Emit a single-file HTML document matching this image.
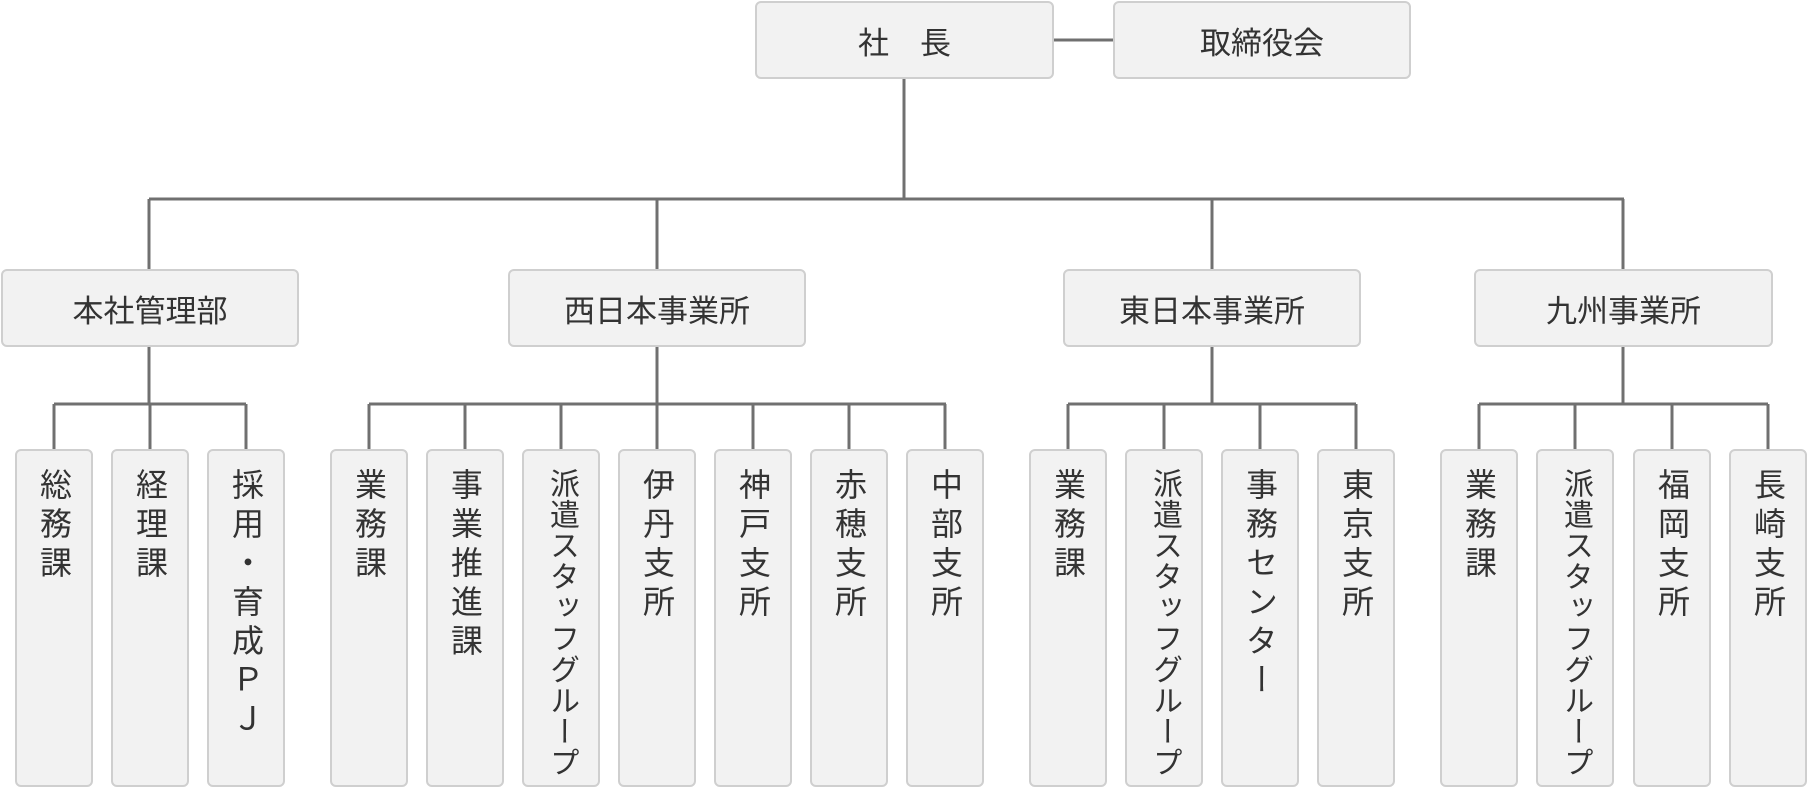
<!DOCTYPE html>
<html><head><meta charset="utf-8"><style>
body{margin:0;width:1808px;height:788px;background:#fff;position:relative;overflow:hidden;font-family:"Liberation Sans","Noto Sans CJK JP",sans-serif;color:#333}
.b{position:absolute;box-sizing:border-box;background:#f2f2f2;border:2px solid #cfcfcf;border-radius:6px;display:flex;align-items:center;justify-content:center;font-size:31px}
.l{position:absolute;box-sizing:border-box;background:#f2f2f2;border:2px solid #cfcfcf;border-radius:6px;top:449px;height:338px;width:78px;display:flex;justify-content:center;padding-top:17px;overflow:visible}
.l span{writing-mode:vertical-rl;text-orientation:upright;font-size:32px;letter-spacing:7px;line-height:1;white-space:nowrap;height:auto}
.l span.k{font-size:30px;letter-spacing:1px}
svg{position:absolute;left:0;top:0}
</style></head><body>
<svg width="1808" height="788"><g stroke="#707070" stroke-width="3" fill="none">
<line x1="1053" y1="40" x2="1113" y2="40"/>
<line x1="904" y1="78" x2="904" y2="199"/>
<line x1="149" y1="199" x2="1624" y2="199"/>
<line x1="149" y1="199" x2="149" y2="269"/><line x1="657" y1="199" x2="657" y2="269"/><line x1="1212" y1="199" x2="1212" y2="269"/><line x1="1623" y1="199" x2="1623" y2="269"/>
<line x1="149" y1="346" x2="149" y2="404"/><line x1="657" y1="346" x2="657" y2="404"/><line x1="1212" y1="346" x2="1212" y2="404"/><line x1="1623" y1="346" x2="1623" y2="404"/>
<line x1="54" y1="404" x2="246" y2="404"/><line x1="369" y1="404" x2="946" y2="404"/><line x1="1068" y1="404" x2="1356" y2="404"/><line x1="1479" y1="404" x2="1768" y2="404"/>
<line x1="54" y1="404" x2="54" y2="449"/><line x1="150" y1="404" x2="150" y2="449"/><line x1="246" y1="404" x2="246" y2="449"/>
<line x1="369" y1="404" x2="369" y2="449"/><line x1="465" y1="404" x2="465" y2="449"/><line x1="561" y1="404" x2="561" y2="449"/><line x1="657" y1="404" x2="657" y2="449"/><line x1="753" y1="404" x2="753" y2="449"/><line x1="849" y1="404" x2="849" y2="449"/><line x1="945" y1="404" x2="945" y2="449"/>
<line x1="1068" y1="404" x2="1068" y2="449"/><line x1="1164" y1="404" x2="1164" y2="449"/><line x1="1260" y1="404" x2="1260" y2="449"/><line x1="1356" y1="404" x2="1356" y2="449"/>
<line x1="1479" y1="404" x2="1479" y2="449"/><line x1="1575" y1="404" x2="1575" y2="449"/><line x1="1672" y1="404" x2="1672" y2="449"/><line x1="1768" y1="404" x2="1768" y2="449"/>
</g></svg>
<div class="b" style="left:755px;top:1px;width:299px;height:78px">社　長</div>
<div class="b" style="left:1113px;top:1px;width:298px;height:78px">取締役会</div>
<div class="b" style="left:1px;top:269px;width:298px;height:78px">本社管理部</div>
<div class="b" style="left:508px;top:269px;width:298px;height:78px">西日本事業所</div>
<div class="b" style="left:1063px;top:269px;width:298px;height:78px">東日本事業所</div>
<div class="b" style="left:1474px;top:269px;width:299px;height:78px">九州事業所</div>
<div class="l" style="left:15px"><span>総務課</span></div>
<div class="l" style="left:111px"><span>経理課</span></div>
<div class="l" style="left:207px"><span>採用・育成ＰＪ</span></div>
<div class="l" style="left:330px"><span>業務課</span></div>
<div class="l" style="left:426px"><span>事業推進課</span></div>
<div class="l" style="left:522px"><span class="k">派遣スタッフグループ</span></div>
<div class="l" style="left:618px"><span>伊丹支所</span></div>
<div class="l" style="left:714px"><span>神戸支所</span></div>
<div class="l" style="left:810px"><span>赤穂支所</span></div>
<div class="l" style="left:906px"><span>中部支所</span></div>
<div class="l" style="left:1029px"><span>業務課</span></div>
<div class="l" style="left:1125px"><span class="k">派遣スタッフグループ</span></div>
<div class="l" style="left:1221px"><span>事務センター</span></div>
<div class="l" style="left:1317px"><span>東京支所</span></div>
<div class="l" style="left:1440px"><span>業務課</span></div>
<div class="l" style="left:1536px"><span class="k">派遣スタッフグループ</span></div>
<div class="l" style="left:1633px"><span>福岡支所</span></div>
<div class="l" style="left:1729px"><span>長崎支所</span></div>
</body></html>
